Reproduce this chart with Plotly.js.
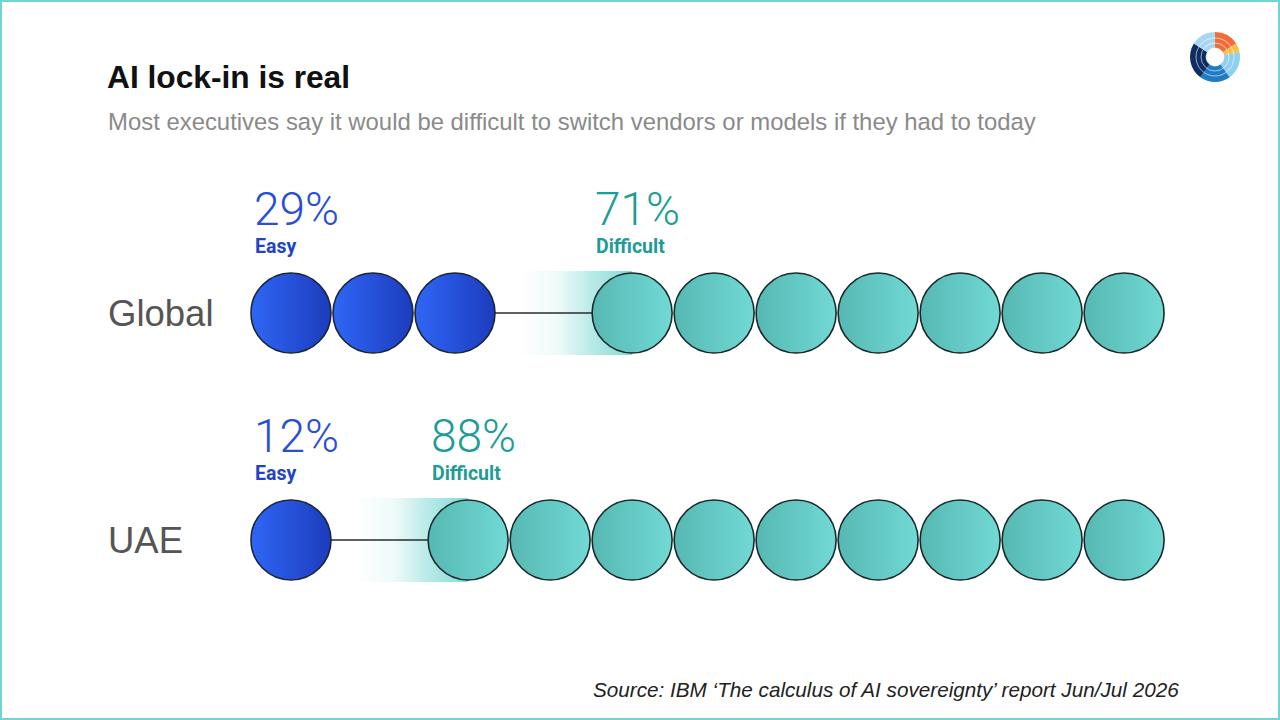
<!DOCTYPE html>
<html><head><meta charset="utf-8">
<script src="https://cdn.plot.ly/plotly-3.0.1.min.js"></script>
<style>html,body{margin:0;padding:0;background:#fff;} #chart{width:1280px;height:720px;}</style>
</head><body><div id="chart"></div>
<script>
// ---- data ----
const regions = ['Global', 'UAE'];
const easyPct = [29, 12];
const difficultPct = [71, 88];
const seriesNames = ['Easy', 'Difficult'];
const circlesPerRow = 10;
const titleText = 'AI lock-in is real';
const subtitleText = 'Most executives say it would be difficult to switch vendors or models if they had to today';
const sourceText = 'Source: IBM \u2018The calculus of AI sovereignty\u2019 report Jun/Jul 2026';

// ---- styles / layout constants ----
const W = 1280, H = 720;
const unitPx = 82;          // px per circle
const originPx = 291;       // px of first circle centre
const rowPx = [313, 540];   // row centres
const gapUnits = 2.16;      // centre distance between last easy and first difficult
const blue = '#2a4fd4', teal = '#1e9c96';
const fadeRGB = '110,212,207';

const traces = [];
const annotations = [];

regions.forEach((reg, r) => {
  const nEasy = Math.round(easyPct[r] / (100 / circlesPerRow));
  const nDiff = circlesPerRow - nEasy;
  const easyX = Array.from({length: nEasy}, (_, i) => i);
  const firstDiff = nEasy - 1 + gapUnits;
  const diffX = Array.from({length: nDiff}, (_, j) => firstDiff + j);
  const h = 0.185;
  const f0 = firstDiff - 1.37, f1 = firstDiff;
  // fade band
  traces.push({
    type: 'scatter', mode: 'lines', x: [f0, f1, f1, f0, f0], y: [r - h, r - h, r + h, r + h, r - h],
    fill: 'toself', line: {width: 0, color: 'rgba(0,0,0,0)'},
    fillgradient: {type: 'horizontal', colorscale: [[0, `rgba(${fadeRGB},0)`], [0.35, `rgba(${fadeRGB},0.12)`], [0.65, `rgba(${fadeRGB},0.5)`], [1, `rgba(${fadeRGB},0.85)`]]},
    hoverinfo: 'skip', showlegend: false
  });
  // connector
  traces.push({
    type: 'scatter', mode: 'lines', x: [easyX[nEasy - 1], firstDiff], y: [r, r],
    line: {color: '#2b2b2b', width: 1.3}, hoverinfo: 'skip', showlegend: false
  });
  // easy circles
  traces.push({
    type: 'scatter', mode: 'markers', name: seriesNames[0], x: easyX, y: easyX.map(() => r),
    marker: {size: 80, color: '#2f66f6', line: {width: 1.6, color: '#1a2535'}, gradient: {type: 'horizontal', color: '#1c3cbc'}},
    hoverinfo: 'skip', showlegend: false
  });
  // difficult circles
  traces.push({
    type: 'scatter', mode: 'markers', name: seriesNames[1], x: diffX, y: diffX.map(() => r),
    marker: {size: 80, color: '#56b8b3', line: {width: 1.6, color: '#1a2a2c'}, gradient: {type: 'horizontal', color: '#72d9d4'}},
    hoverinfo: 'skip', showlegend: false
  });
  // labels
  const pctFont = {family: 'Roboto', size: 46, weight: 300};
  const serFont = {family: 'Roboto', size: 19.5, weight: 700};
  annotations.push({xref: 'x', yref: 'y', x: -0.5 + 0.02, y: r, yshift: 104, xanchor: 'left', yanchor: 'middle', showarrow: false,
    text: easyPct[r] + '%', font: Object.assign({color: blue}, pctFont)});
  annotations.push({xref: 'x', yref: 'y', x: -0.5 + 0.04, y: r, yshift: 67, xanchor: 'left', yanchor: 'middle', showarrow: false,
    text: seriesNames[0], font: Object.assign({color: '#1f44c4'}, serFont)});
  annotations.push({xref: 'x', yref: 'y', x: firstDiff - 0.5 + 0.02, y: r, yshift: 104, xanchor: 'left', yanchor: 'middle', showarrow: false,
    text: difficultPct[r] + '%', font: Object.assign({color: teal}, pctFont)});
  annotations.push({xref: 'x', yref: 'y', x: firstDiff - 0.5 + 0.04, y: r, yshift: 67, xanchor: 'left', yanchor: 'middle', showarrow: false,
    text: seriesNames[1], font: Object.assign({color: teal}, serFont)});
  annotations.push({xref: 'paper', yref: 'y', x: 106 / W, y: r, xanchor: 'left', yanchor: 'middle', showarrow: false,
    text: reg, font: {family: 'Liberation Sans', size: 36.5, color: '#555555'}});
});

annotations.push({xref: 'paper', yref: 'paper', x: 106 / W, y: 1 - 121 / H, xanchor: 'left', yanchor: 'middle', showarrow: false,
  text: subtitleText, font: {family: 'Liberation Sans', size: 23.9, color: '#8a8a8a'}});
annotations.push({xref: 'paper', yref: 'paper', x: 1181 / W, y: 1 - 689 / H, xanchor: 'right', yanchor: 'middle', showarrow: false,
  text: sourceText, font: {family: 'Liberation Sans', size: 20.7, style: 'italic', color: '#222'}});

// logo (decorative ring)
const logoColors = ['#f26b3a', '#f7c04a', '#8fd0f2', '#1e7cc4', '#0f2d63', '#a9d7f2'];
traces.push({
  type: 'pie', values: [0.8, 0.3, 0.9, 1, 1.2, 0.8], marker: {colors: logoColors, line: {width: 0}},
  hole: 0.36, sort: false, direction: 'clockwise', rotation: 0, textinfo: 'none', hoverinfo: 'skip', showlegend: false,
  domain: {x: [1190 / W, 1240 / W], y: [1 - 82 / H, 1 - 32 / H]}
});

const shapes = [
  {type: 'rect', xref: 'paper', yref: 'paper', x0: 0, x1: 1, y0: 0, y1: 1, line: {color: '#72d4cf', width: 4}, fillcolor: 'rgba(0,0,0,0)'}
];
[9, 14, 19].forEach(rad => shapes.push({type: 'circle', xref: 'paper', yref: 'paper', xsizemode: 'pixel', ysizemode: 'pixel',
  xanchor: 1215 / W, yanchor: 1 - 57 / H, x0: -rad, x1: rad, y0: -rad, y1: rad, line: {color: 'rgba(255,255,255,0.6)', width: 1}}));

const layout = {
  width: W, height: H, margin: {l: 0, r: 0, t: 0, b: 0},
  paper_bgcolor: '#ffffff', plot_bgcolor: 'rgba(0,0,0,0)',
  title: {text: '<b>' + titleText + '</b>', x: 107 / W, xanchor: 'left', xref: 'container', y: 1 - 77 / H, yref: 'container', yanchor: 'middle',
    font: {family: 'Liberation Sans', size: 31.7, color: '#111'}},
  xaxis: {range: [-originPx / unitPx, (W - originPx) / unitPx], visible: false, fixedrange: true},
  yaxis: {range: [(H - rowPx[0]) / (rowPx[1] - rowPx[0]), -rowPx[0] / (rowPx[1] - rowPx[0])], visible: false, fixedrange: true},
  annotations: annotations, shapes: shapes, showlegend: false
};

Plotly.newPlot('chart', traces, layout, {staticPlot: true, displayModeBar: false});
</script>
</body></html>
